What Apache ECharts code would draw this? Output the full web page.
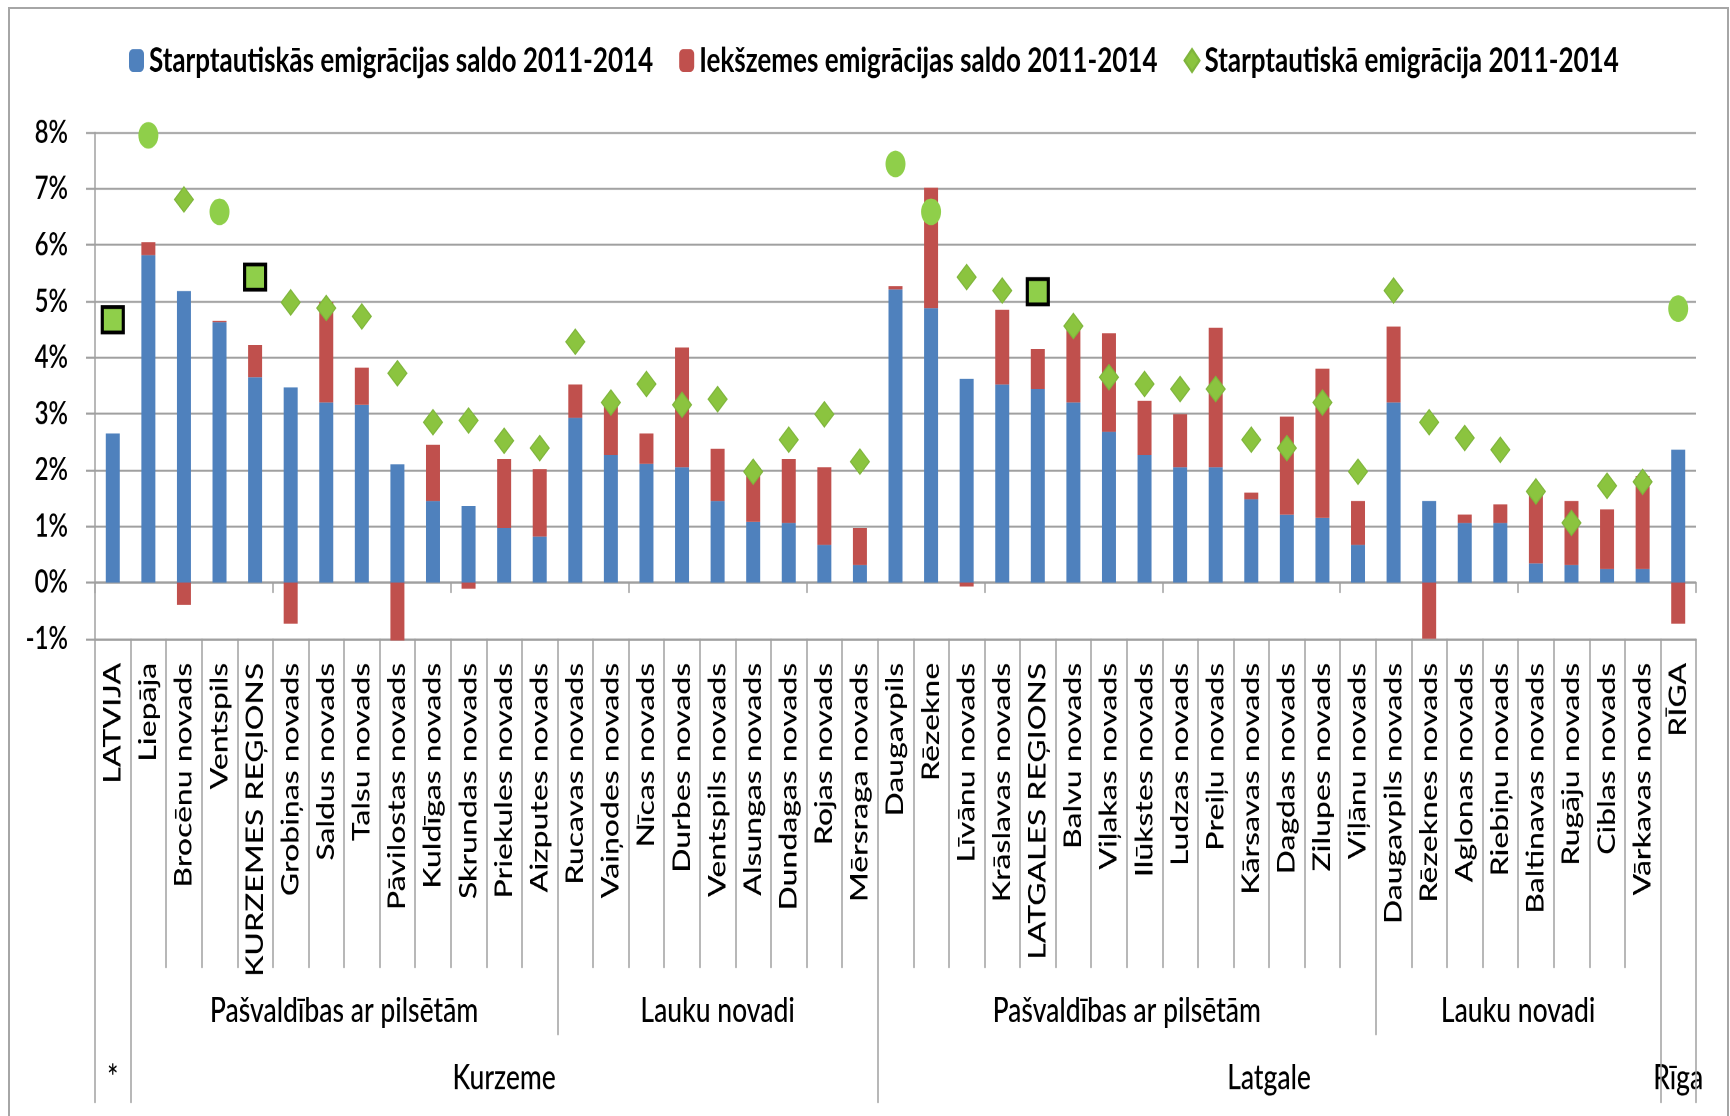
<!DOCTYPE html>
<html><head><meta charset="utf-8">
<script src="https://cdn.jsdelivr.net/npm/echarts@6/dist/echarts.min.js"></script>
<style>
html,body{margin:0;padding:0;background:#fff;overflow:hidden;}
#wrap{position:relative;width:1730px;height:1116px;overflow:hidden;background:#fff;}
#frame{position:absolute;left:8px;top:7px;width:1721px;height:1140px;border:2px solid #a6a6a6;box-sizing:border-box;}
#chart{position:absolute;left:0;top:0;width:1730px;height:839px;transform:scaleY(1.33);transform-origin:0 0;}
</style></head><body>
<div id="wrap"><div id="frame"></div><div id="chart"></div></div>
<script>
// ---------------- data ----------------
const categories = ['LATVIJA','Liepāja','Brocēnu novads','Ventspils','KURZEMES REĢIONS','Grobiņas novads','Saldus novads','Talsu novads','Pāvilostas novads','Kuldīgas novads','Skrundas novads','Priekules novads','Aizputes novads','Rucavas novads','Vaiņodes novads','Nīcas novads','Durbes novads','Ventspils novads','Alsungas novads','Dundagas novads','Rojas novads','Mērsraga novads','Daugavpils','Rēzekne','Līvānu novads','Krāslavas novads','LATGALES REĢIONS','Balvu novads','Viļakas novads','Ilūkstes novads','Ludzas novads','Preiļu novads','Kārsavas novads','Dagdas novads','Zilupes novads','Viļānu novads','Daugavpils novads','Rēzeknes novads','Aglonas novads','Riebiņu novads','Baltinavas novads','Rugāju novads','Ciblas novads','Vārkavas novads','RĪGA'];
const intlSaldo = [2.65,5.82,5.18,4.63,3.65,3.47,3.20,3.16,2.10,1.45,1.36,0.97,0.82,2.93,2.27,2.11,2.05,1.45,1.08,1.06,0.67,0.31,5.21,4.88,3.62,3.52,3.44,3.20,2.68,2.27,2.05,2.05,1.48,1.21,1.15,0.67,3.20,1.45,1.06,1.06,0.34,0.31,0.24,0.24,2.36];
const domesticSaldo = [0,0.23,-0.40,0.02,0.57,-0.73,1.79,0.66,-1.03,1.00,-0.11,1.23,1.20,0.59,0.85,0.54,2.13,0.93,0.90,1.14,1.38,0.66,0.06,2.14,-0.07,1.33,0.71,1.30,1.75,0.96,0.94,2.48,0.12,1.74,2.65,0.78,1.35,-1.00,0.15,0.33,1.22,1.14,1.06,1.65,-0.73];
const intlEmigration = [4.67,7.95,6.81,6.59,5.43,4.98,4.88,4.73,3.72,2.85,2.88,2.52,2.39,4.28,3.20,3.53,3.16,3.26,1.97,2.54,2.99,2.15,7.44,6.59,5.43,5.19,5.17,4.56,3.65,3.53,3.44,3.44,2.54,2.39,3.20,1.97,5.19,2.85,2.57,2.36,1.62,1.06,1.72,1.79,4.87];
const markerKind = ['square','circle','diamond','circle','square','diamond','diamond','diamond','diamond','diamond','diamond','diamond','diamond','diamond','diamond','diamond','diamond','diamond','diamond','diamond','diamond','diamond','circle','circle','diamond','diamond','square','diamond','diamond','diamond','diamond','diamond','diamond','diamond','diamond','diamond','diamond','diamond','diamond','diamond','diamond','diamond','diamond','diamond','circle'];
const seriesNames = ['Starptautiskās emigrācijas saldo 2011-2014','Iekšzemes emigrācijas saldo 2011-2014','Starptautiskā emigrācija 2011-2014'];
const midGroupLabels = ['Pašvaldības ar pilsētām','Lauku novadi','Pašvaldības ar pilsētām','Lauku novadi'];
const midGroupStart = [1,13,22,36];
const midGroupEnd = [12,21,35,43];
const topGroupLabels = ['*','Kurzeme','Latgale','Rīga'];
const topGroupStart = [0,1,22,44];
const topGroupEnd = [0,21,43,44];
const yMin = -1, yMax = 8, yStep = 1;

// ---------------- layout helpers ----------------
const K = 1.33;               // vertical stretch of the whole picture
const Y = v => v / K;         // final-pixel -> canvas-pixel (vertical)
const FONT = 'Lato, "Noto Sans", sans-serif';
const GRID = '#a0a0a0';
const BLUE = '#4F81BD', RED = '#C0504D', GREEN = '#8BC43F', GREEN2 = '#8FCF4A';

const chart = echarts.init(document.getElementById('chart'), null, {devicePixelRatio: 2});

const symbolMap = {diamond: 'diamond', circle: 'circle', square: 'rect'};
const scatterData = intlEmigration.map((v, i) => {
  const k = markerKind[i];
  const item = {value: v, symbol: symbolMap[k]};
  if (k === 'circle') { item.symbolSize = [20, 20]; item.itemStyle = {color: GREEN2, borderWidth: 0, opacity: 1}; }
  else if (k === 'square') { item.symbolSize = [21, 19]; item.itemStyle = {color: GREEN2, borderColor: '#000', borderWidth: 3, opacity: 1}; }
  return item;
});

const tickLen = (finalY) => Y(finalY - 638.8);
const midTickSet = new Set(midGroupStart);
const topTickSet = new Set(topGroupStart);

const baseHiddenAxis = {
  type: 'category', data: categories, position: 'bottom', gridIndex: 0,
  axisLine: {show: false, onZero: false}, axisLabel: {show: false}, splitLine: {show: false}
};

const option = {
  animation: false,
  backgroundColor: 'transparent',
  legend: {
    data: [seriesNames[0], seriesNames[1], seriesNames[2]],
    left: 129, top: Y(56.5) - 10, padding: 0,
    itemWidth: 15, itemHeight: 17, itemGap: 26,
    textStyle: {fontFamily: FONT, fontSize: 26, fontWeight: 'bold', color: '#000', lineHeight: 20}
  },
  grid: {left: 95, right: 34, top: Y(132.5), height: Y(638.8 - 132.5), containLabel: false},
  xAxis: [
    { type: 'category', data: categories, gridIndex: 0, position: 'bottom',
      axisLine: {show: true, onZero: true, lineStyle: {color: GRID, width: 1.6}},
      axisTick: {show: true, length: Y(10.5), lineStyle: {color: GRID, width: 1.5}},
      axisLabel: {show: false}, splitLine: {show: false} },
    { type: 'category', data: categories, gridIndex: 0, position: 'bottom',
      axisLine: {show: true, onZero: false, lineStyle: {color: GRID, width: 1.6}},
      axisTick: {show: true, length: tickLen(968), lineStyle: {color: GRID, width: 1.5}},
      axisLabel: {show: true, interval: 0, rotate: 90, margin: Y(24), fontFamily: FONT, fontSize: 24, fontWeight: 500, color: '#000'},
      splitLine: {show: false} },
    Object.assign({}, baseHiddenAxis, {
      axisTick: {show: true, length: tickLen(1035), interval: (i) => midTickSet.has(i), lineStyle: {color: GRID, width: 1.5}} }),
    Object.assign({}, baseHiddenAxis, {
      axisTick: {show: true, length: tickLen(1103), interval: (i) => topTickSet.has(i), lineStyle: {color: GRID, width: 1.5}} })
  ],
  yAxis: {
    type: 'value', min: yMin, max: yMax, interval: yStep,
    axisLine: {show: true, lineStyle: {color: GRID, width: 1.5}},
    axisTick: {show: true, length: 9, lineStyle: {color: GRID, width: 1.6}},
    axisLabel: {formatter: '{value}%', margin: 27, fontFamily: FONT, fontSize: 24, fontWeight: 600, color: '#000'},
    splitLine: {show: true, lineStyle: {color: GRID, width: 1.6}}
  },
  series: [
    {name: seriesNames[0], type: 'bar', stack: 'total', xAxisIndex: 0, barWidth: 14, clip: false,
     itemStyle: {color: BLUE}, data: intlSaldo},
    {name: seriesNames[1], type: 'bar', stack: 'total', xAxisIndex: 0, barWidth: 14, clip: false,
     itemStyle: {color: RED}, data: domesticSaldo},
    {name: seriesNames[2], type: 'scatter', xAxisIndex: 0, symbol: 'diamond', symbolSize: [19, 19], z: 5,
     itemStyle: {color: GREEN, borderColor: '#7fb53c', borderWidth: 1, opacity: 1}, data: scatterData}
  ]
};
chart.setOption(option);

// group labels of the multi-level category axis, positioned through the category scale
const px = i => chart.convertToPixel({xAxisIndex: 0}, i);
const textEl = (t, x, y) => ({type: 'text', x: x, y: y, silent: true,
  style: {text: t, fill: '#000', fontFamily: FONT, fontSize: 26.5, fontWeight: 500,
          align: 'center', verticalAlign: 'middle', textAlign: 'center', textVerticalAlign: 'middle'}});
const els = [];
midGroupLabels.forEach((t, j) => els.push(textEl(t, (px(midGroupStart[j]) + px(midGroupEnd[j])) / 2, Y(1011))));
topGroupLabels.forEach((t, j) => els.push(textEl(t, (px(topGroupStart[j]) + px(topGroupEnd[j])) / 2, Y(1078))));
chart.setOption({graphic: {elements: els}});
</script>
</body></html>
